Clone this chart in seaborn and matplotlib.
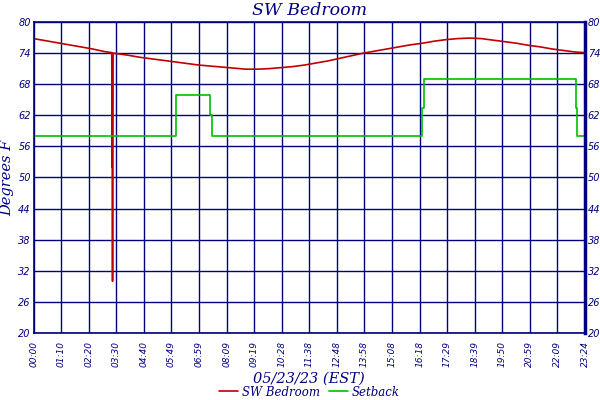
import numpy as np
import pandas as pd
import matplotlib.pyplot as plt
import seaborn as sns

sns.set_style('white')

NAVY = '#000080'
RED = '#c00000'
GREEN = '#00c000'

# Temperatura del dormitorio (minutos desde 00:00, grados F)
temp_minutes = [0, 30, 60, 90, 120, 150, 180, 199, 200, 200.5, 201, 201.5, 202,
                240, 270, 300, 330, 360, 390, 420, 450, 480, 510, 540, 570, 600,
                630, 660, 690, 720, 750, 780, 810, 840, 870, 900, 930, 960, 990,
                1020, 1050, 1080, 1110, 1140, 1170, 1200, 1230, 1260, 1290, 1320,
                1350, 1380, 1404]
temp_values = [76.8, 76.4, 76.0, 75.6, 75.2, 74.8, 74.3, 74.1, 52.0, 74.0, 30.0, 74.0, 74.0,
               73.6, 73.2, 72.9, 72.6, 72.3, 72.0, 71.7, 71.5, 71.3, 71.1, 70.9, 70.9, 71.0,
               71.2, 71.4, 71.7, 72.1, 72.5, 73.0, 73.5, 74.0, 74.4, 74.8, 75.2, 75.6, 75.9,
               76.3, 76.6, 76.8, 76.9, 76.8, 76.5, 76.2, 75.9, 75.5, 75.2, 74.8,
               74.5, 74.2, 74.1]

# Consigna (setback)
setback_minutes = [0, 362, 450, 453, 990, 995, 1380, 1384, 1404]
setback_values = [58, 66, 62, 58, 63.5, 69, 63.5, 58, 58]

x_tick_labels = ['00:00', '01:10', '02:20', '03:30', '04:40', '05:49', '06:59',
                 '08:09', '09:19', '10:28', '11:38', '12:48', '13:58', '15:08',
                 '16:18', '17:29', '18:39', '19:50', '20:59', '22:09', '23:24']
y_ticks = [20, 26, 32, 38, 44, 50, 56, 62, 68, 74, 80]

temp_df = pd.DataFrame({'minutes': temp_minutes, 'temp': temp_values})
setback_df = pd.DataFrame({'minutes': setback_minutes, 'temp': setback_values})

fig = plt.figure(figsize=(6, 4), dpi=100)
ax = fig.add_axes([0.056, 0.1675, 0.919, 0.7775])

sns.lineplot(data=temp_df, x='minutes', y='temp', ax=ax, color=RED, linewidth=1.2,
             sort=False, estimator=None, label='SW Bedroom')
sns.lineplot(data=setback_df, x='minutes', y='temp', ax=ax, color=GREEN, linewidth=1.2,
             sort=False, estimator=None, label='Setback', drawstyle='steps-post')

ax.set_xlim(0, 1404)
ax.set_ylim(20, 80)
x_ticks = np.linspace(0, 1404, len(x_tick_labels))
ax.set_xticks(x_ticks)
ax.set_xticklabels(x_tick_labels, rotation=90, fontsize=6.5, style='italic', color=NAVY)
ax.set_yticks(y_ticks)
ax.set_yticklabels([str(v) for v in y_ticks], fontsize=7, style='italic', color=NAVY)
ax.tick_params(axis='x', length=4, color=NAVY, pad=2)
ax.tick_params(axis='y', length=0, pad=2, labelright=True)
ax.grid(True, color=NAVY, linewidth=1)
ax.set_axisbelow(True)

for side, spine in ax.spines.items():
    spine.set_color(NAVY)
    spine.set_linewidth(1.2)
ax.spines['right'].set_linewidth(2.5)

serif = {'family': 'DejaVu Serif', 'style': 'italic', 'color': NAVY}
ax.set_title('SW Bedroom', fontsize=12.5, pad=5, **serif)
ax.set_xlabel('05/23/23 (EST)', fontsize=10.5, labelpad=3, **serif)
ax.set_ylabel('Degrees F', fontsize=10.5, labelpad=3, **serif)

leg = ax.legend(loc='center', bbox_to_anchor=(0.5, -0.19), ncol=2, frameon=False,
                handlelength=1.6, handletextpad=0.3, columnspacing=0.8,
                prop={'family': 'DejaVu Serif', 'style': 'italic', 'size': 8.5})
for text in leg.get_texts():
    text.set_color(NAVY)

plt.savefig('out.png', dpi=100)
plt.close()
